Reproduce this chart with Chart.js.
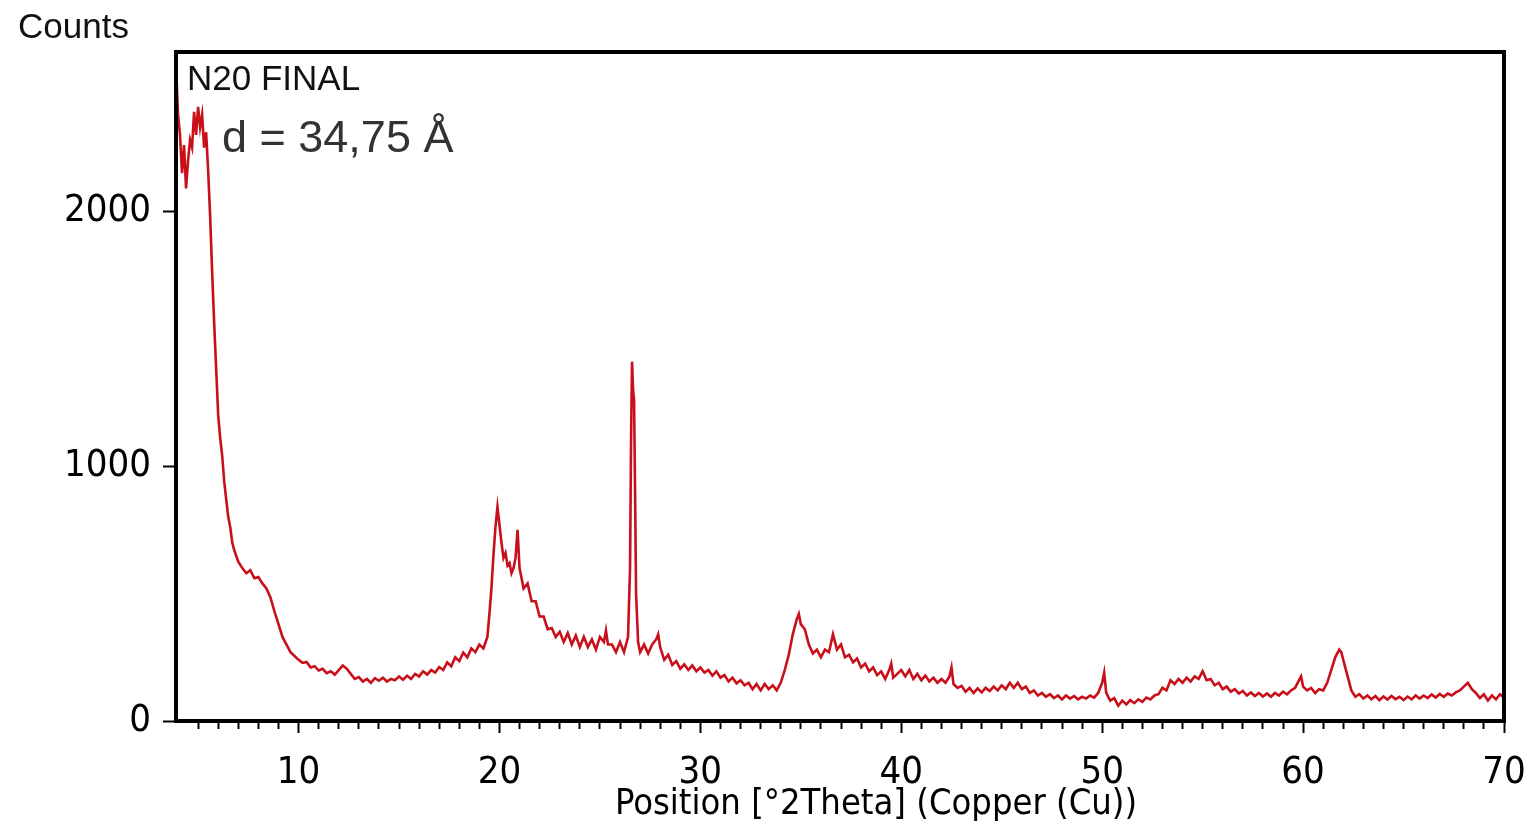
<!DOCTYPE html>
<html lang="en">
<head>
<meta charset="UTF-8">
<title>N20 FINAL</title>
<script src="https://cdn.jsdelivr.net/npm/chart.js"></script>
<style>
  html, body { margin: 0; padding: 0; background: #fff; overflow: hidden; }
</style>
</head>
<body>
<canvas id="xrd" width="1528" height="829"></canvas>
<script>
// 2theta positions (deg) and counts
const twoTheta = [
  3.9, 4.0, 4.1, 4.2, 4.3, 4.4, 4.5, 4.6, 4.7, 4.8, 4.9, 5.0, 5.1, 5.2, 5.3,
  5.4, 5.5, 5.6, 5.7, 5.8, 5.9, 6.0, 6.1, 6.2, 6.3, 6.4, 6.5, 6.6, 6.7, 6.8,
  7.0, 7.2, 7.4, 7.6, 7.8, 8.0, 8.2, 8.4, 8.6, 8.8, 9.0, 9.2, 9.4, 9.6, 9.8,
  10.0, 10.2, 10.4, 10.6, 10.8, 11.0, 11.2, 11.4, 11.6, 11.8, 12.0, 12.2, 12.4, 12.6, 12.8,
  13.0, 13.2, 13.4, 13.6, 13.8, 14.0, 14.2, 14.4, 14.6, 14.8, 15.0, 15.2, 15.4, 15.6, 15.8,
  16.0, 16.2, 16.4, 16.6, 16.8, 17.0, 17.2, 17.4, 17.6, 17.8, 18.0, 18.2, 18.4, 18.6, 18.8,
  19.0, 19.2,
  19.4, 19.5, 19.6, 19.7, 19.8, 19.9, 20.0, 20.1, 20.2, 20.3,
  20.4, 20.5, 20.6, 20.7, 20.8, 20.9, 21.0, 21.1, 21.2, 21.4,
  21.6, 21.8, 22.0, 22.2, 22.4, 22.6, 22.8, 23.0, 23.2, 23.4,
  23.6, 23.8, 24.0, 24.2, 24.4, 24.6, 24.8, 25.0, 25.2, 25.3,
  25.4, 25.6, 25.8, 26.0, 26.2, 26.3, 26.4, 26.5, 26.55, 26.6,
  26.65, 26.7, 26.75, 26.8, 26.9, 27.0, 27.2, 27.4, 27.6, 27.8,
  27.9, 28.0, 28.2, 28.4, 28.6, 28.8, 29.0, 29.2, 29.4, 29.6,
  29.8, 30.0, 30.2, 30.4, 30.6, 30.8, 31.0, 31.2, 31.4, 31.6,
  31.8, 32.0, 32.2, 32.4, 32.6, 32.8, 33.0, 33.2, 33.4, 33.6,
  33.8, 34.0, 34.2, 34.4, 34.6, 34.8, 34.9, 35.0, 35.2, 35.4,
  35.6, 35.8, 36.0, 36.2, 36.4, 36.6, 36.8, 37.0, 37.2, 37.4,
  37.6, 37.8, 38.0, 38.2, 38.4, 38.6, 38.8, 39.0, 39.2, 39.4,
  39.5, 39.6, 39.8, 40.0, 40.2, 40.4, 40.6, 40.8, 41.0, 41.2,
  41.4, 41.6, 41.8, 42.0, 42.2, 42.4, 42.5, 42.6, 42.8, 43.0,
  43.2, 43.4, 43.6, 43.8, 44.0, 44.2, 44.4, 44.6, 44.8, 45.0,
  45.2, 45.4, 45.6, 45.8, 46.0, 46.2, 46.4, 46.6, 46.8, 47.0,
  47.2, 47.4, 47.6, 47.8, 48.0, 48.2, 48.4, 48.6, 48.8, 49.0,
  49.2, 49.4, 49.6, 49.8, 50.0, 50.1, 50.2, 50.4, 50.6, 50.8,
  51.0, 51.2, 51.4, 51.6, 51.8, 52.0, 52.2, 52.4, 52.6, 52.8,
  53.0, 53.2, 53.4, 53.6, 53.8, 54.0, 54.2, 54.4, 54.6, 54.8,
  55.0, 55.2, 55.4, 55.6, 55.8, 56.0, 56.2, 56.4, 56.6, 56.8,
  57.0, 57.2, 57.4, 57.6, 57.8, 58.0, 58.2, 58.4, 58.6, 58.8,
  59.0, 59.2, 59.4, 59.6, 59.8, 59.9, 60.0, 60.2, 60.4, 60.6,
  60.8, 61.0, 61.2, 61.4, 61.6, 61.8, 61.9, 62.0, 62.2, 62.4,
  62.6, 62.8, 63.0, 63.2, 63.4, 63.6, 63.8, 64.0, 64.2, 64.4,
  64.6, 64.8, 65.0, 65.2, 65.4, 65.6, 65.8, 66.0, 66.2, 66.4,
  66.6, 66.8, 67.0, 67.2, 67.4, 67.6, 67.8, 68.0, 68.2, 68.4,
  68.6, 68.8, 69.0, 69.2, 69.4, 69.6, 69.8, 70.0
];
const counts = [
  2580, 2380, 2300, 2150, 2260, 2090, 2200, 2280, 2250, 2390, 2300, 2410, 2330, 2380, 2250,
  2310, 2160, 1980, 1760, 1560, 1380, 1200, 1110, 1040, 940, 870, 800, 760, 700, 670,
  625, 600, 580, 592, 560, 565, 540, 520, 485, 430, 380, 330, 300, 270, 255,
  240, 228, 232, 210, 215, 198, 205, 188, 195, 182, 200, 218, 205, 185, 165,
  172, 155, 165, 150, 168, 158, 170, 155, 165, 160, 175, 162, 178, 165, 185,
  175, 195, 182, 200, 190, 212, 200, 230, 215, 250, 235, 268, 250, 285, 270,
  300, 285,
  330, 420, 520, 650, 760, 840, 770, 700, 640, 660,
  610, 620, 580, 600, 640, 750, 600, 560, 520, 540,
  470, 470, 410, 410, 360, 365, 330, 350, 310, 345,
  300, 335, 290, 330, 290, 320, 280, 330, 310, 355,
  300, 300, 270, 310, 270, 300, 330, 600, 1100, 1410,
  1300, 1260, 900, 500, 310, 270, 300, 265, 300, 320,
  340, 290, 240, 260, 220, 235, 205, 222, 200, 218,
  195, 210, 190, 200, 178, 195, 170, 180, 155, 170,
  148, 160, 140, 150, 125, 145, 120, 145, 125, 140,
  120, 150, 200, 260, 340, 400, 420, 380, 360, 300,
  265, 280, 250, 280, 270, 340, 280, 300, 250, 260,
  230, 245, 210, 225, 195, 210, 180, 195, 165, 200,
  225, 170, 185, 200, 175, 200, 165, 185, 160, 178,
  155, 170, 150, 165, 150, 175, 210, 145, 130, 138,
  115, 130, 110, 128, 112, 130, 118, 135, 120, 140,
  125, 150, 130, 150, 125, 135, 110, 120, 100, 110,
  95, 105, 90, 100, 85, 100, 88, 98, 85, 95,
  88, 100, 92, 110, 150, 190, 110, 80, 90, 60,
  80, 65, 82, 70, 85, 75, 92, 85, 100, 105,
  130, 120, 160, 145, 165, 150, 170, 155, 175, 165,
  195, 160, 165, 140, 150, 125, 135, 115, 125, 108,
  118, 100, 112, 98, 110, 96, 108, 95, 110, 100,
  115, 105, 120, 130, 160, 175, 135, 120, 130, 110,
  125, 120, 150, 200, 250, 280, 270, 240, 180, 120,
  95, 105, 88, 100, 85, 98, 82, 96, 84, 98,
  86, 95, 82, 96, 85, 100, 88, 100, 90, 104,
  92, 106, 95, 108, 100, 112, 120, 135, 150, 125,
  110, 90, 105, 80, 100, 85, 105, 92
];
const xTickLabels = [10, 20, 30, 40, 50, 60, 70];
const yTickLabels = [0, 1000, 2000];
const sampleName = "N20 FINAL";
const dSpacing = "d = 34,75 Å";
const yTitle = "Counts";
const xTitle = "Position [°2Theta] (Copper (Cu))";

const narrow = "'Liberation Sans Narrow', 'Arial Narrow', 'DejaVu Sans Condensed', 'Liberation Sans', sans-serif";
const plain = "'Liberation Sans', Arial, sans-serif";

// frame + free text labels
const frame = {
  id: 'frame',
  afterDraw(chart) {
    const { ctx, chartArea: a } = chart;
    ctx.save();
    ctx.strokeStyle = '#000';
    ctx.lineWidth = 4;
    ctx.strokeRect(a.left, a.top, a.right - a.left, a.bottom - a.top);
    ctx.fillStyle = '#111';
    ctx.textBaseline = 'alphabetic';
    ctx.font = '35px ' + plain;
    ctx.fillText(yTitle, 18, 38);
    ctx.fillText(sampleName, a.left + 11, a.top + 38);
    ctx.fillStyle = '#333';
    ctx.font = '45px ' + plain;
    ctx.fillText(dSpacing, a.left + 46, a.top + 100);
    // axis title sits a bit right of the plot centre in the original
    ctx.fillStyle = '#000';
    ctx.font = '36px ' + narrow;
    ctx.textAlign = 'center';
    ctx.textBaseline = 'middle';
    ctx.fillText(xTitle, 876, 805);
    ctx.restore();
  }
};

const pts = twoTheta.map((x, i) => ({ x: x, y: counts[i] }));

new Chart(document.getElementById('xrd'), {
  type: 'line',
  data: {
    datasets: [{
      data: pts,
      borderColor: '#c8101a',
      borderWidth: 2.6,
      pointRadius: 0,
      tension: 0
    }]
  },
  options: {
    responsive: false,
    animation: false,
    devicePixelRatio: 1,
    layout: { padding: { top: 52, right: 24, left: 0, bottom: 0 } },
    plugins: { legend: { display: false }, tooltip: { enabled: false } },
    scales: {
      x: {
        type: 'linear',
        min: 3.9,
        max: 70,
        afterFit: s => { s.height = 108; s.paddingLeft = 0; s.paddingRight = 0; },
        afterBuildTicks: s => { s.ticks = s.ticks.filter(t => Number.isInteger(t.value)); },
        border: { display: true, color: '#000', width: 4 },
        grid: {
          drawOnChartArea: false,
          drawTicks: true,
          tickLength: 12,
          tickWidth: 2,
          tickColor: '#000',
          tickBorderDash: c => (c.tick && xTickLabels.includes(c.tick.value)) ? [] : [6, 60]
        },
        ticks: {
          stepSize: 1,
          autoSkip: false,
          maxRotation: 0,
          padding: 17,
          color: '#000',
          font: { family: narrow, size: 38 },
          callback: v => xTickLabels.includes(v) ? String(v) : ''
        },
        title: { display: false }
      },
      y: {
        min: 0,
        max: 2625,
        afterFit: s => { s.width = 176; },
        afterBuildTicks: s => { s.ticks = yTickLabels.map(v => ({ value: v })); },
        border: { display: true, color: '#000', width: 4 },
        grid: {
          drawOnChartArea: false,
          tickLength: 13,
          tickWidth: 2,
          tickColor: '#000'
        },
        ticks: {
          padding: 12,
          color: '#000',
          font: { family: narrow, size: 38 },
          callback: v => String(v)
        }
      }
    }
  },
  plugins: [frame]
});
</script>
</body>
</html>
